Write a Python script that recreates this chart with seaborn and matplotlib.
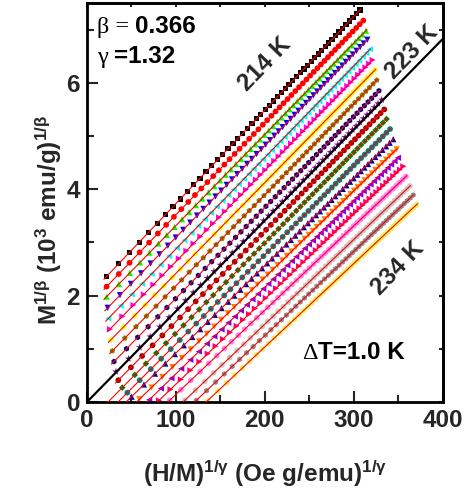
import numpy as np
import pandas as pd
import matplotlib
matplotlib.use("Agg")
import matplotlib.pyplot as plt
import seaborn as sns
from matplotlib.ticker import MultipleLocator
from matplotlib.offsetbox import TextArea, HPacker, AnnotationBbox

# ---------------- data ----------------
temps = [214, 215, 216, 217, 218, 219, 220, 221, 222, 223, 224,
         225, 226, 227, 228, 229, 230, 231, 232, 233, 234]
colors = ["#000000", "#FF0000", "#00FF00", "#0000FF", "#00FFFF", "#FF00FF",
          "#FFFF00", "#808000", "#000080", "#800080", "#A00000", "#008000",
          "#008080", "#0000A0", "#FF8000", "#8000FF", "#FF0080", "#FF80FF",
          "#C8C8C8", "#8C8C8C", "#F0F060"]
markers = ["s", "o", "^", "v", "<", ">", "D", "p", "h", "*", "o",
           "D", "o", "^", "v", "<", ">", "o", "o", "h", "o"]
# first (lowest field) and last (highest field) point of each isotherm
x_start = [22.1, 22.1, 22.1, 23.3, 24.0, 25.9, 27.0, 28.5, 30.4, 32.6, 35.3,
           39.7, 45.4, 50.2, 58.9, 70.0, 81.0, 93.0, 110.0, 123.0, 136.0]
y_start = [2.36, 2.17, 1.98, 1.77, 1.57, 1.37, 1.17, 0.96, 0.76, 0.57, 0.41,
           0.27, 0.175, 0.10, 0.05, 0.04, 0.03, 0.03, 0.03, 0.03, 0.03]
x_end = [307.2, 310.9, 313.9, 315.4, 318.4, 321.4, 324.0, 326.0, 328.5, 331.6, 334.5,
         337.1, 341.0, 344.6, 348.4, 349.9, 355.9, 358.9, 363.4, 367.1, 370.9]
y_end = [7.37, 7.17, 6.98, 6.81, 6.63, 6.43, 6.24, 6.05, 5.85, 5.68, 5.50,
         5.32, 5.13, 4.94, 4.75, 4.59, 4.43, 4.24, 4.06, 3.89, 3.71]
# spacing of successive field points along the 214 K isotherm (pixels)
step_profile = [12, 10.7, 10, 9.3, 8.7, 8.2, 7.7, 7.3, 6.9, 6.6,
                6.3, 6.0, 5.8, 5.6, 5.4, 5.2, 5.0, 4.9, 4.8, 4.7,
                4.6, 4.5, 4.4, 4.3, 4.2, 4.1, 4.0, 3.95, 3.9, 3.85,
                3.8, 3.75, 3.7, 3.65, 3.6, 3.6, 3.55, 3.5, 3.5, 3.5,
                3.5, 3.5, 3.5, 3.5, 3.5, 3.5, 3.5, 3.5, 3.5, 3.5]
# linear fits
fit_intercept = [1.972, 1.787, 1.601, 1.368, 1.157, 0.927, 0.709, 0.472, 0.241, 0.0, -0.190,
                 -0.404, -0.586, -0.725, -0.907, -1.098, -1.267, -1.442, -1.719, -1.915, -2.101]
fit_slope = [0.01757, 0.01731, 0.01714, 0.01725, 0.01719, 0.01712, 0.01707, 0.01711, 0.01707,
             0.01705, 0.01701, 0.01698, 0.01676, 0.01644, 0.01624, 0.01626, 0.01601,
             0.01583, 0.01590, 0.01581, 0.01567]
fit_x_lo = [19, 19, 19, 20, 21, 23, 24, 25.5, 27.5, 0, 32,
            23.8, 35.0, 44.1, 55.9, 67.5, 79.1, 91.1, 108.1, 121.1, 134.1]
fit_x_hi = [308, 312, 315, 316, 319, 322, 325, 327, 329, 400, 335,
            338, 342, 345, 349, 351, 357, 360, 364, 368, 372]

xlim = (0, 400)
ylim = (0, 7.5)
xticks = [0, 100, 200, 300, 400]
yticks = [0, 2, 4, 6]

# ---------------- style ----------------
sns.set_theme(style="ticks")
plt.rcParams["font.family"] = ["Liberation Sans", "DejaVu Sans"]
plt.rcParams["font.weight"] = "bold"
plt.rcParams["axes.labelweight"] = "bold"
plt.rcParams["mathtext.fontset"] = "custom"
plt.rcParams["mathtext.rm"] = "Liberation Sans:bold"
plt.rcParams["mathtext.it"] = "Liberation Sans:bold"
plt.rcParams["mathtext.bf"] = "Liberation Sans:bold"

FS = 17.5
marker_area = {"s": 14, "o": 17, "^": 20, "v": 20, "<": 20, ">": 20,
               "D": 11, "p": 18, "h": 17, "*": 32}

fig = plt.figure(figsize=(4.72, 4.95), dpi=100)
ax = fig.add_axes([0.1843, 0.1879, 0.7532, 0.806])

labels = [f"{t} K" for t in temps]
frac = np.concatenate([[0.0], np.cumsum(step_profile)])
frac = frac / frac[-1]
rows = []
for lab, x0, y0, x1, y1 in zip(labels, x_start, y_start, x_end, y_end):
    for f in frac:
        rows.append((lab, x0 + f * (x1 - x0), y0 + f * (y1 - y0)))
df = pd.DataFrame(rows, columns=["T", "x", "y"])

sns.scatterplot(data=df, x="x", y="y", hue="T", style="T", size="T",
                palette=dict(zip(labels, colors)), markers=dict(zip(labels, markers)),
                sizes={lab: marker_area[m] for lab, m in zip(labels, markers)},
                linewidth=0, legend=False, ax=ax, zorder=2)

fit_rows = []
for lab, a, b, lo, hi in zip(labels, fit_intercept, fit_slope, fit_x_lo, fit_x_hi):
    if lab == "223 K":
        continue
    fit_rows.append((lab, lo, a + b * lo))
    fit_rows.append((lab, hi, a + b * hi))
fit_df = pd.DataFrame(fit_rows, columns=["T", "x", "y"])
sns.lineplot(data=fit_df, x="x", y="y", units="T", estimator=None, sort=False,
             color="#FF0000", lw=0.8, ax=ax, legend=False, zorder=3)

i223 = temps.index(223)
bx = [fit_x_lo[i223], fit_x_hi[i223]]
by = [fit_intercept[i223] + fit_slope[i223] * v for v in bx]
sns.lineplot(x=bx, y=by, color="black", lw=1.6, ax=ax, legend=False, zorder=4)

ax.set_xlim(*xlim)
ax.set_ylim(*ylim)
ax.set_xticks(xticks)
ax.set_yticks(yticks)
ax.xaxis.set_minor_locator(MultipleLocator(50))
ax.yaxis.set_minor_locator(MultipleLocator(1))
ax.tick_params(which="both", direction="in", width=1.5, labelsize=FS, pad=5)
ax.tick_params(which="major", length=8)
ax.tick_params(which="minor", length=5)
for sp in ax.spines.values():
    sp.set_linewidth(2)
    sp.set_color("black")

secx = ax.secondary_xaxis("top")
secx.xaxis.set_major_locator(MultipleLocator(50))
secx.tick_params(direction="in", length=3, width=1.5, labeltop=False)
secx.spines["top"].set_linewidth(2)
secy = ax.secondary_yaxis("right")
secy.yaxis.set_major_locator(MultipleLocator(1))
secy.tick_params(direction="in", length=3, width=1.5, labelright=False)
secy.spines["right"].set_linewidth(2)

ax.set_xlabel(r"(H/M)$^{1/\gamma}$ (Oe g/emu)$^{1/\gamma}$", fontsize=FS, fontweight="bold")
ax.set_ylabel(r"M$^{1/\beta}$ (10$^{3}$ emu/g)$^{1/\beta}$", fontsize=FS, fontweight="bold")
ax.xaxis.set_label_coords(0.5, -0.14)
ax.yaxis.set_label_coords(-0.065, 0.455)

# rotated temperature labels
for txt, xy in [("214 K", (200, 6.34)), ("223 K", (366, 6.58)), ("234 K", (350, 2.52))]:
    ax.text(xy[0], xy[1], txt, rotation=46, ha="center", va="center",
            fontsize=FS, fontweight="bold", rotation_mode="anchor")


def mixed(parts, xy, align=(0, 0.5)):
    boxes = []
    for t, fam, w in parts:
        boxes.append(TextArea(t, textprops=dict(fontsize=FS, family=fam, fontweight=w,
                                                color="black")))
    pack = HPacker(children=boxes, align="baseline", pad=0, sep=0)
    ab = AnnotationBbox(pack, xy, xycoords="axes fraction", box_alignment=align,
                        frameon=False, pad=0)
    ax.add_artist(ab)


mixed([("\u03b2 = ", "Liberation Serif", "normal"), ("0.366", "Liberation Sans", "bold")],
      (0.028, 0.942))
mixed([("\u03b3 ", "Liberation Serif", "normal"), ("=1.32", "Liberation Sans", "bold")],
      (0.028, 0.865))
mixed([("\u0394", "Liberation Serif", "normal"), ("T=1.0 K", "Liberation Sans", "bold")],
      (0.749, 0.125), align=(0.5, 0.5))

fig.savefig("out.png", dpi=100)
